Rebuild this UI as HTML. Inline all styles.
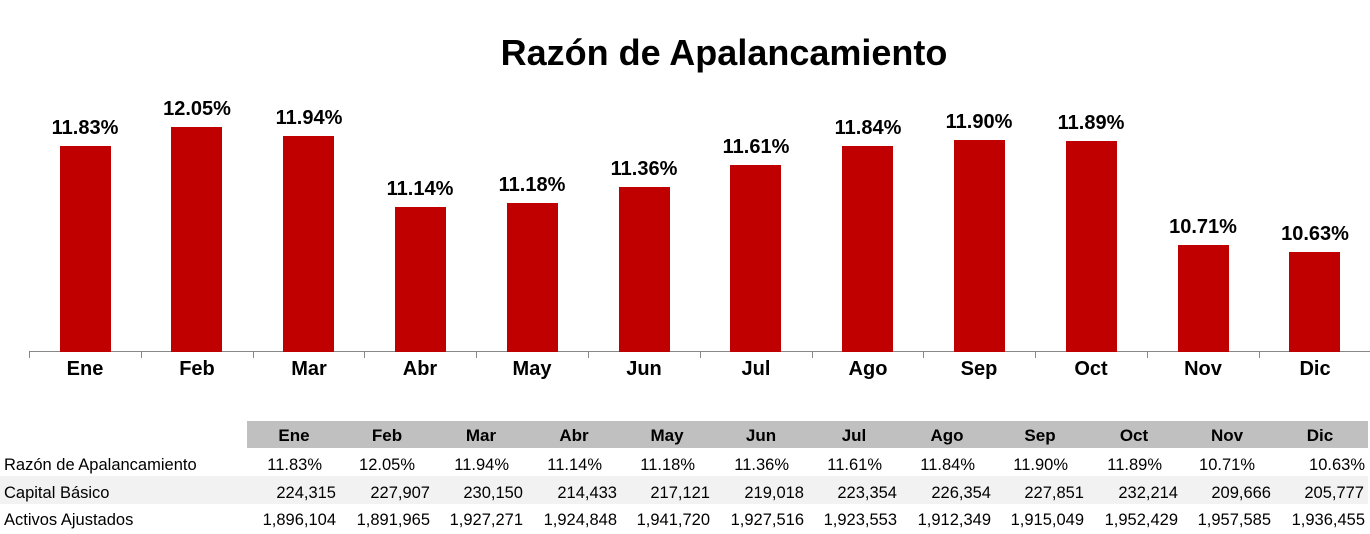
<!DOCTYPE html>
<html><head><meta charset="utf-8"><style>
body{margin:0;width:1370px;height:534px;background:#fff;position:relative;overflow:hidden;font-family:"Liberation Sans",Arial,sans-serif;}
.a{position:absolute;white-space:nowrap}
.bar{position:absolute;background:#c00000;width:51px}
.vl{position:absolute;font-weight:bold;font-size:20px;width:120px;text-align:center}
.cl{position:absolute;font-weight:bold;font-size:20px;width:112px;text-align:center;top:358px}
.hd{position:absolute;font-weight:bold;font-size:17px;width:90px;text-align:center;top:426px}
.c{position:absolute;font-size:16.5px;text-align:right;width:110px}
.rl{position:absolute;font-size:16.5px;left:4px}
</style></head><body>
<div class="a" style="left:0;width:1448px;top:32px;text-align:center;font-weight:bold;font-size:36px">Razón de Apalancamiento</div>
<div class="a" style="left:29px;top:351px;width:1341px;height:1px;background:#888"></div>
<div id="ch"></div>
<div class="a" style="left:247px;top:421px;width:1121px;height:27px;background:#c0c0c0"></div>
<div class="a" style="left:0;top:476px;width:1368px;height:28px;background:#f2f2f2"></div>
<div class="rl" style="top:456px">Razón de Apalancamiento</div>
<div class="rl" style="top:484px">Capital Básico</div>
<div class="rl" style="top:511px">Activos Ajustados</div>
<div id="tb"></div>
<script>
var m=["Ene","Feb","Mar","Abr","May","Jun","Jul","Ago","Sep","Oct","Nov","Dic"];
var v=["11.83%","12.05%","11.94%","11.14%","11.18%","11.36%","11.61%","11.84%","11.90%","11.89%","10.71%","10.63%"];
var t=[146,127,136,207,203,187,165,146,140,141,245,252];
var cap=["224,315","227,907","230,150","214,433","217,121","219,018","223,354","226,354","227,851","232,214","209,666","205,777"];
var act=["1,896,104","1,891,965","1,927,271","1,924,848","1,941,720","1,927,516","1,923,553","1,912,349","1,915,049","1,952,429","1,957,585","1,936,455"];
var h="";
for(var i=0;i<13;i++){var x=Math.round(29+i*111.8);h+='<div class="a" style="left:'+x+'px;top:352px;width:1px;height:6px;background:#888"></div>';}
for(var i=0;i<12;i++){var c=29+i*111.8+56;
h+='<div class="bar" style="left:'+Math.round(c-25.5)+'px;top:'+t[i]+'px;height:'+(352-t[i])+'px"></div>';
h+='<div class="vl" style="left:'+Math.round(c-60)+'px;top:'+(t[i]-29)+'px">'+v[i]+'</div>';
h+='<div class="cl" style="left:'+Math.round(c-56)+'px">'+m[i]+'</div>';}
document.getElementById("ch").innerHTML=h;
var s="";
for(var i=0;i<12;i++){var hc=294+i*93.3,r=336+i*93.5;
s+='<div class="hd" style="left:'+Math.round(hc-45)+'px">'+m[i]+'</div>';
var pr=(i==11)?1365:322+i*93.3;
s+='<div class="c" style="left:'+Math.round(pr-110)+'px;top:456px">'+v[i]+'</div>';
s+='<div class="c" style="left:'+Math.round((i==11?1364:r)-110)+'px;top:484px">'+cap[i]+'</div>';
s+='<div class="c" style="left:'+Math.round((i==11?1365:r)-110)+'px;top:511px">'+act[i]+'</div>';}
document.getElementById("tb").innerHTML=s;
</script>
</body></html>
